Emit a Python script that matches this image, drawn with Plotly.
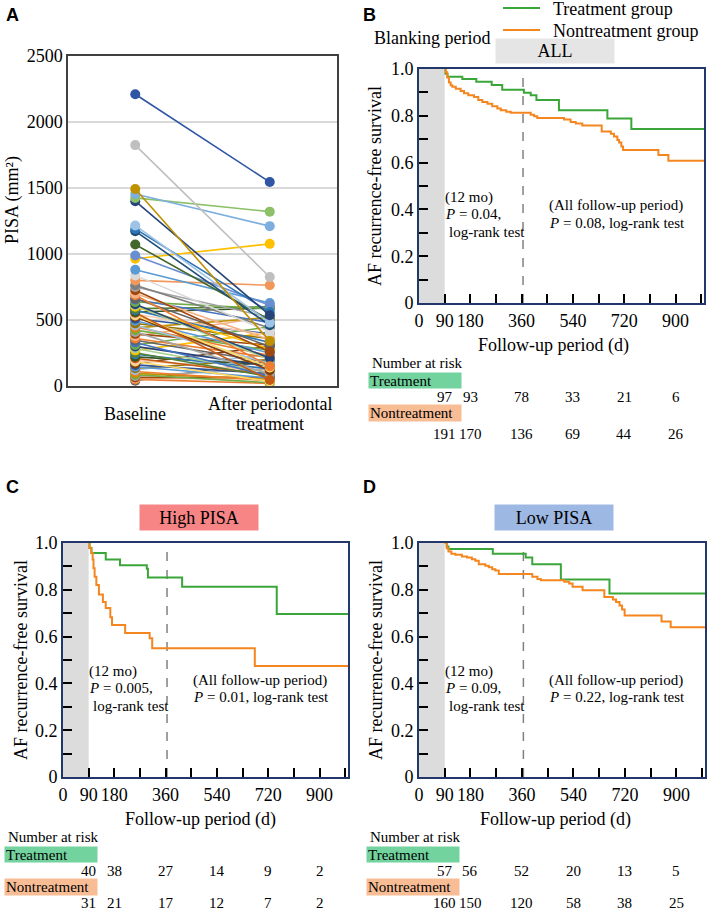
import plotly.graph_objects as go

W, H = 709, 912

# ---------------- Panel A data (PISA, mm²) ----------------
time_points = ["Baseline", "After periodontal treatment"]
baseline_pisa = [2210, 1825, 1493, 1455, 1425, 1400, 1216, 1190, 1173, 1072,
                 989, 964, 881, 838, 800, 763, 750, 725, 700, 687,
                 662, 655, 637, 620, 612, 600, 586, 575, 561, 555,
                 544, 535, 524, 510, 495, 473, 460, 448, 440, 423,
                 410, 395, 378, 360, 347, 330, 310, 300, 284, 270,
                 252, 240, 221, 210, 196, 185, 171, 160, 146, 135,
                 121, 110, 96, 85, 76, 65, 58, 50, 40]
after_pisa = [1545, 826, 340, 1211, 1321, 536, 480, 560, 460, 500,
              612, 1077, 629, 410, 763, 440, 520, 260, 350, 150,
              300, 480, 586, 210, 200, 280, 600, 330, 590, 45,
              385, 140, 120, 395, 250, 360, 170, 230, 520, 270,
              90, 310, 524, 215, 180, 75, 448, 150, 100, 405,
              70, 130, 160, 85, 110, 35, 300, 95, 60, 200,
              240, 40, 50, 25, 130, 65, 55, 20, 190]
pisa_ticks = [0, 500, 1000, 1500, 2000, 2500]

# ---------------- Kaplan-Meier data ----------------
followup_end = 1000
b_trt_days = [90, 93, 100, 152, 201, 255, 292, 368, 392, 412, 491, 661, 745]
b_trt_surv = [1.0, 0.98, 0.967, 0.957, 0.945, 0.932, 0.911, 0.899, 0.888, 0.867, 0.824, 0.788, 0.744]
b_non_days = [90, 94, 99, 105, 111, 117, 129, 146, 158, 173, 193, 208, 222, 240, 257, 275, 287, 306,
              322, 392, 404, 415, 509, 532, 550, 573, 641, 673, 684, 696, 702, 710, 716, 840, 875]
b_non_surv = [1.0, 0.986, 0.964, 0.942, 0.931, 0.924, 0.916, 0.906, 0.896, 0.888, 0.880, 0.867, 0.859,
              0.852, 0.841, 0.831, 0.824, 0.817, 0.813, 0.805, 0.798, 0.791, 0.784, 0.774, 0.767, 0.759,
              0.733, 0.723, 0.712, 0.697, 0.686, 0.669, 0.654, 0.633, 0.608]

c_trt_days = [90, 93, 100, 150, 200, 294, 298, 418, 750]
c_trt_surv = [1.0, 0.979, 0.957, 0.929, 0.905, 0.89, 0.853, 0.813, 0.697]
c_non_days = [90, 93, 99, 104, 107, 111, 117, 126, 140, 150, 166, 172, 218, 304, 313, 673]
c_non_surv = [1.0, 0.98, 0.957, 0.93, 0.892, 0.856, 0.82, 0.78, 0.748, 0.722, 0.683, 0.65, 0.615,
              0.593, 0.55, 0.474]

d_trt_days = [90, 97, 103, 258, 373, 396, 496, 666]
d_trt_surv = [1.0, 0.985, 0.974, 0.954, 0.938, 0.909, 0.844, 0.784]
d_non_days = [90, 97, 103, 113, 127, 150, 168, 185, 197, 209, 232, 244, 256, 267, 279, 396, 414, 426,
              508, 525, 537, 572, 648, 678, 689, 701, 710, 719, 848, 880]
d_non_surv = [1.0, 0.978, 0.964, 0.954, 0.95, 0.942, 0.938, 0.931, 0.924, 0.909, 0.903, 0.896, 0.888,
              0.882, 0.867, 0.856, 0.846, 0.841, 0.834, 0.827, 0.813, 0.798, 0.769, 0.759, 0.748, 0.733,
              0.716, 0.69, 0.664, 0.64]

group_names = ["Treatment group", "Nontreatment group"]
blanking_days = 90
landmark_day = 365
blanking_marker_day = 50
blanking_marker_level = 1.035

day_ticks = [0, 90, 180, 360, 540, 720, 900]
day_minor_ticks = [90, 180, 270, 360, 450, 540, 630, 720, 810, 900, 990]
surv_ticks = [0, 0.2, 0.4, 0.6, 0.8, 1.0]
surv_tick_text = ["0", "0.2", "0.4", "0.6", "0.8", "1.0"]
surv_minor_ticks = [0.1, 0.3, 0.5, 0.7, 0.9]

risk_days = [90, 180, 360, 540, 720, 900]
b_trt_risk = [97, 93, 78, 33, 21, 6]
b_non_risk = [191, 170, 136, 69, 44, 26]
c_trt_risk = [40, 38, 27, 14, 9, 2]
c_non_risk = [31, 21, 17, 12, 7, 2]
d_trt_risk = [57, 56, 52, 20, 13, 5]
d_non_risk = [160, 150, 120, 58, 38, 25]

# ---------------- styles ----------------
SERIF = "Liberation Serif"
SANS = "Liberation Sans"
GREEN = "#3aa639"
ORANGE = "#f5861f"
FRAME = "#22386a"
head_colors = ["#2F55A4", "#BFBFBF", "#BF9000", "#7CAFDD", "#8CC168", "#264478", "#9DC3E6", "#2E75B6",
               "#1F4E79", "#43682B", "#698ED0", "#FFC000", "#5B9BD5", "#D9D9D9", "#F1975A", "#7F7F7F"]
palette = ["#A5A5A5", "#9E480E", "#F4B183", "#ED7D31", "#636363", "#4472C4", "#70AD47", "#264478",
           "#A9D18E", "#FFC000", "#548235", "#2E75B6", "#375623", "#C55A11", "#F8CBAD", "#FFD966",
           "#843C0C", "#2F5597", "#5B9BD5", "#997300", "#9DC3E6", "#ED7D31", "#BF9000", "#70AD47"]
n_pairs = len(baseline_pisa)
pair_colors = head_colors + [palette[i % len(palette)] for i in range(n_pairs - len(head_colors))]


def px(x):
    return x / W


def py(y):
    return 1 - y / H


fig = go.Figure()

# Panel A traces
for i in range(n_pairs - 1, -1, -1):
    c = pair_colors[i]
    fig.add_trace(go.Scatter(
        x=time_points, y=[baseline_pisa[i], after_pisa[i]], mode="lines+markers",
        line=dict(color=c, width=1.6), marker=dict(size=10, color=c),
        xaxis="x", yaxis="y", showlegend=False, hoverinfo="skip"))


def km(days, surv):
    return days + [followup_end], surv + [surv[-1]]


panels = [
    ("x2", "y2", b_trt_days, b_trt_surv, b_non_days, b_non_surv),
    ("x3", "y3", c_trt_days, c_trt_surv, c_non_days, c_non_surv),
    ("x4", "y4", d_trt_days, d_trt_surv, d_non_days, d_non_surv),
]
for xa, ya, td, ts, nd, ns in panels:
    x, y = km(td, ts)
    fig.add_trace(go.Scatter(x=x, y=y, mode="lines", line=dict(color=GREEN, width=2, shape="hv"),
                             name=group_names[0], xaxis=xa, yaxis=ya, showlegend=False))
    x, y = km(nd, ns)
    fig.add_trace(go.Scatter(x=x, y=y, mode="lines", line=dict(color=ORANGE, width=2, shape="hv"),
                             name=group_names[1], xaxis=xa, yaxis=ya, showlegend=False))

# blanking period marker
fig.add_trace(go.Scatter(x=[blanking_marker_day], y=[blanking_marker_level], mode="markers",
                         marker=dict(symbol="triangle-down", size=17, color="#6e6e6e"),
                         xaxis="x2", yaxis="y2", showlegend=False, cliponaxis=False, hoverinfo="skip"))

# ---------------- axes ----------------
tickfont = dict(family=SERIF, size=18, color="black")


def dom_x(a, b):
    return [px(a), px(b)]


def dom_y(top, bot):
    return [py(bot), py(top)]


def km_x(dom, anchor):
    return dict(domain=dom, anchor=anchor, range=[0, followup_end], tickmode="array",
                tickvals=day_ticks, ticktext=[str(v) for v in day_ticks], ticks="inside", ticklen=9,
                tickwidth=2, tickcolor="black",
                minor=dict(tickmode="array", tickvals=day_minor_ticks, ticks="inside", ticklen=9,
                           tickwidth=2, tickcolor="black"),
                showline=True, mirror=True, linecolor=FRAME, linewidth=2, showgrid=False,
                zeroline=False, tickfont=tickfont, fixedrange=True, automargin=False)


def km_y(dom, anchor):
    return dict(domain=dom, anchor=anchor, range=[0, 1], tickmode="array", tickvals=surv_ticks,
                ticktext=surv_tick_text, ticks="inside", ticklen=9, tickwidth=2, tickcolor="black",
                minor=dict(tickmode="array", tickvals=surv_minor_ticks, ticks="inside", ticklen=9,
                           tickwidth=2, tickcolor="black"),
                showline=True, mirror=True, linecolor=FRAME, linewidth=2, showgrid=False,
                zeroline=False, tickfont=tickfont, fixedrange=True, automargin=False)


B_X, C_X, D_X = (419, 704), (63, 348), (419, 705)
B_Y, CD_Y = (69, 303), (543, 777)

fig.update_layout(
    width=W, height=H, margin=dict(l=0, r=0, t=0, b=0, autoexpand=False),
    paper_bgcolor="white", plot_bgcolor="white", showlegend=False,
    xaxis=dict(domain=dom_x(68, 337), anchor="y", type="category", range=[-0.5, 1.5],
               showticklabels=False, ticks="", showline=True, mirror=True, linecolor="#404040",
               linewidth=1.5, showgrid=False, zeroline=False, fixedrange=True, automargin=False),
    yaxis=dict(domain=dom_y(56, 386), anchor="x", range=[0, 2500], tickmode="array",
               tickvals=pisa_ticks, ticks="", showline=True, mirror=True, linecolor="#404040",
               linewidth=1.5, showgrid=True, gridcolor="#d9d9d9", gridwidth=1.5, zeroline=False,
               tickfont=tickfont, fixedrange=True, automargin=False),
    xaxis2=km_x(dom_x(*B_X), "y2"), yaxis2=km_y(dom_y(*B_Y), "x2"),
    xaxis3=km_x(dom_x(*C_X), "y3"), yaxis3=km_y(dom_y(*CD_Y), "x3"),
    xaxis4=km_x(dom_x(*D_X), "y4"), yaxis4=km_y(dom_y(*CD_Y), "x4"),
)

# shading and landmark lines
for xa, ya in [("x2", "y2"), ("x3", "y3"), ("x4", "y4")]:
    fig.add_shape(type="rect", xref=xa, yref=ya, x0=0, x1=blanking_days, y0=0, y1=1,
                  fillcolor="#dcdcdc", line=dict(width=0), layer="below")
    fig.add_shape(type="line", xref=xa, yref=ya, x0=landmark_day, x1=landmark_day, y0=0, y1=1,
                  line=dict(color="#808080", width=1.5, dash="dash"), layer="below")


def text(x, y, s, size=15, xanchor="left", xref="paper", family=SERIF, **kw):
    fig.add_annotation(x=px(x) if xref == "paper" else x, y=py(y), xref=xref, yref="paper", text=s,
                       showarrow=False, xanchor=xanchor, yanchor="middle",
                       font=dict(family=family, size=size, color="black"), **kw)


# legend (drawn manually)
for name, col, ly in [(group_names[0], GREEN, 8), (group_names[1], ORANGE, 30)]:
    fig.add_shape(type="line", xref="paper", yref="paper", x0=px(503), x1=px(540), y0=py(ly), y1=py(ly),
                  line=dict(color=col, width=2))
    text(551, ly + 1.5, name, size=18)

# panel letters
for lab, x, y in [("A", 12, 15), ("B", 369, 15), ("C", 12, 487), ("D", 369, 487)]:
    text(x, y, "<b>%s</b>" % lab, size=18, xanchor="center", family=SANS)

# Panel A labels
text(12, 200, "PISA (mm²)", size=18, xanchor="center", textangle=-90)
text(time_points[0], 414, "Baseline", size=18, xanchor="center", xref="x")
text(time_points[1], 404, "After periodontal", size=18, xanchor="center", xref="x")
text(time_points[1], 424, "treatment", size=18, xanchor="center", xref="x")

# B header
text(432, 38, "Blanking period", size=18, xanchor="center")
text(555, 51, "ALL", size=18, xanchor="center", bgcolor="#e5e5e5", width=116, height=22)
text(199, 517, "High PISA", size=18, xanchor="center", bgcolor="#f88585", width=116, height=23)
text(554, 517, "Low PISA", size=18, xanchor="center", bgcolor="#9db8e3", width=116, height=23)

# KM panel annotations
km_text = [
    (B_X, B_Y, "0.04", "0.08", 375, 553, 368, "x2", b_trt_risk, b_non_risk,
     (363, 380.5, 397, 413, 434)),
    (C_X, CD_Y, "0.005", "0.01", 21, 200, 4, "x3", c_trt_risk, c_non_risk,
     (837, 854.5, 871, 886.5, 903)),
    (D_X, CD_Y, "0.09", "0.22", 376, 555, 366, "x4", d_trt_risk, d_non_risk,
     (837, 854.5, 871, 886.5, 903)),
]
for (xl, xr), (yt, yb), p12, pall, ytx, xtx, rl, xa, trisk, nrisk, ry in km_text:
    text(xl + 24, yt + 128, "(12 mo)")
    text(xl + 24, yt + 145, "<i>P</i> = %s," % p12)
    text(xl + 28, yt + 163, "log-rank test")
    text(xl + 128, yt + 137, "(All follow-up period)")
    text(xl + 128, yt + 154, "<i>P</i> = %s, log-rank test" % pall)
    text(ytx, (yt + yb) / 2, "AF recurrence-free survival", size=18, xanchor="center", textangle=-90)
    text(xtx, yb + 42, "Follow-up period (d)", size=18, xanchor="center")
    text(rl + 2, ry[0], "Number at risk")
    text(rl, ry[1], "Treatment", bgcolor="#72d39e", width=90, height=13, align="left")
    text(rl, ry[3], "Nontreatment", bgcolor="#f8bd95", width=90, height=14, align="left")
    for d, v in zip(risk_days, trisk):
        text(d, ry[2], str(v), xanchor="center", xref=xa)
    for d, v in zip(risk_days, nrisk):
        text(d, ry[4], str(v), xanchor="center", xref=xa)

fig.write_html("out.html", config={"displayModeBar": False},
               post_script="document.body.style.margin='0';document.body.style.overflow='hidden';")
